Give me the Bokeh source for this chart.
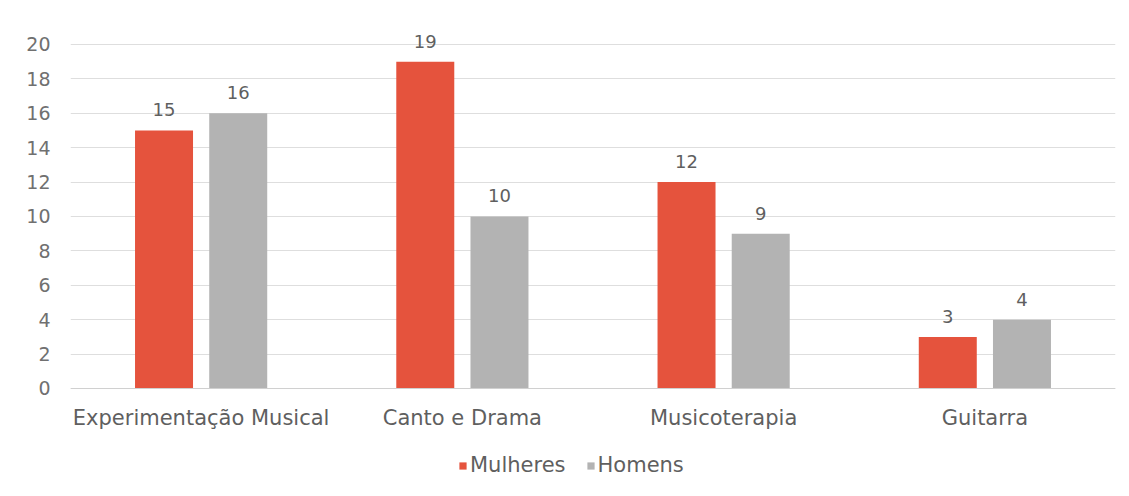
from bokeh.plotting import figure
from bokeh.models import ColumnDataSource, FactorRange, Legend, LegendItem, Range1d, LabelSet, FixedTicker
from bokeh.core.properties import value
from bokeh.transform import dodge
from bokeh.embed import file_html
from bokeh.resources import INLINE

categories = ["Experimentação Musical", "Canto e Drama", "Musicoterapia", "Guitarra"]
mulheres = [15, 19, 12, 3]
homens = [16, 10, 9, 4]
series_names = ["Mulheres", "Homens"]
y_ticks = [0, 2, 4, 6, 8, 10, 12, 14, 16, 18, 20]

src = ColumnDataSource(dict(cat=categories, m=mulheres, h=homens,
                            ml=[str(v) for v in mulheres], hl=[str(v) for v in homens]))

p = figure(x_range=FactorRange(*categories), y_range=Range1d(-5.814, 22.5),
           width=1121, height=488, output_backend="svg", toolbar_location=None,
           min_border_left=70, min_border_right=6, min_border_top=1, min_border_bottom=0)
p.background_fill_color = "white"
p.border_fill_color = "white"
p.outline_line_color = None

FONT = "DejaVu Sans"
red = "#E5533D"
gray = "#B3B3B3"
txt = "#5F5F5F"

r1 = p.vbar(x=dodge("cat", -0.142, range=p.x_range), top="m", width=0.222, source=src,
            fill_color=red, line_color=None)
r2 = p.vbar(x=dodge("cat", 0.142, range=p.x_range), top="h", width=0.222, source=src,
            fill_color=gray, line_color=None)

for xoff, col in [(-0.142, "m"), (0.142, "h")]:
    lbl = LabelSet(x=dodge("cat", xoff, range=p.x_range), y=col, text=col + "l", source=src,
                   y_offset=14, text_align="center", text_font=value(FONT), text_font_size="18px",
                   text_color=txt)
    p.add_layout(lbl)

p.yaxis.ticker = FixedTicker(ticks=y_ticks)
p.yaxis.axis_line_color = None
p.yaxis.major_tick_line_color = None
p.yaxis.minor_tick_line_color = None
p.yaxis.major_label_text_font = FONT
p.yaxis.major_label_text_font_size = "19px"
p.yaxis.major_label_text_color = "#707070"
p.yaxis.major_label_standoff = 14

p.xaxis.fixed_location = 0
p.xaxis.axis_line_color = "#D0D0D0"
p.xaxis.major_tick_line_color = None
p.xaxis.minor_tick_line_color = None
p.xaxis.major_label_text_font = FONT
p.xaxis.major_label_text_font_size = "21px"
p.xaxis.major_label_text_color = txt
p.xaxis.major_label_standoff = 12

p.xgrid.grid_line_color = None
p.ygrid.grid_line_color = "#DEDEDE"
p.ygrid.grid_line_width = 1
p.x_range.range_padding = 0.0
p.x_range.group_padding = 0.0

legend = Legend(items=[LegendItem(label=series_names[0], renderers=[r1]),
                       LegendItem(label=series_names[1], renderers=[r2])],
                orientation="horizontal", location=(388, 11),
                label_text_font=FONT, label_text_font_size="21px", label_text_color=txt,
                glyph_width=9, glyph_height=9, label_standoff=3, spacing=20,
                border_line_color=None, background_fill_alpha=0, margin=0, padding=4)
p.add_layout(legend, "center")

open("out.html", "w").write(file_html(p, INLINE))
